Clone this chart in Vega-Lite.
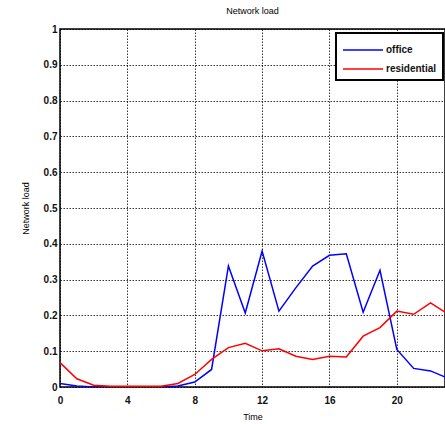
{
  "$schema": "https://vega.github.io/schema/vega-lite/v6.json",
  "width": 385,
  "height": 358,
  "autosize": {"type": "none"},
  "padding": {"left": 60, "top": 29, "right": 0, "bottom": 37},
  "background": "white",
  "title": {"text": "Network load", "fontSize": 9, "font": "Liberation Sans", "fontWeight": "normal", "color": "#000", "offset": 8, "anchor": "middle"},
  "config": {
    "view": {"stroke": "#000", "strokeWidth": 1.5},
    "axis": {"labelFont": "Liberation Sans", "labelFontWeight": "bold", "labelFontSize": 10, "labelColor": "#111", "titleFont": "Liberation Sans", "titleFontWeight": "normal", "titleFontSize": 9, "titleColor": "#000", "grid": true, "gridColor": "#000", "gridDash": [1.5, 1.5], "gridOpacity": 0.8, "gridWidth": 1, "ticks": false, "domain": false},
    "legend": {"strokeColor": "#000", "strokeWidth": 2}
  },
  "data": {"values": [
    {"t": 0, "s": "office", "v": 0.010}, {"t": 1, "s": "office", "v": 0.003}, {"t": 2, "s": "office", "v": 0.0}, {"t": 3, "s": "office", "v": 0.0}, {"t": 4, "s": "office", "v": 0.0}, {"t": 5, "s": "office", "v": 0.0}, {"t": 6, "s": "office", "v": 0.0}, {"t": 7, "s": "office", "v": 0.003}, {"t": 8, "s": "office", "v": 0.014}, {"t": 9, "s": "office", "v": 0.049}, {"t": 10, "s": "office", "v": 0.338}, {"t": 11, "s": "office", "v": 0.207}, {"t": 12, "s": "office", "v": 0.380}, {"t": 13, "s": "office", "v": 0.212}, {"t": 14, "s": "office", "v": 0.277}, {"t": 15, "s": "office", "v": 0.338}, {"t": 16, "s": "office", "v": 0.368}, {"t": 17, "s": "office", "v": 0.372}, {"t": 18, "s": "office", "v": 0.209}, {"t": 19, "s": "office", "v": 0.326}, {"t": 20, "s": "office", "v": 0.105}, {"t": 21, "s": "office", "v": 0.052}, {"t": 22, "s": "office", "v": 0.045}, {"t": 23, "s": "office", "v": 0.025},
    {"t": 0, "s": "residential", "v": 0.068}, {"t": 1, "s": "residential", "v": 0.023}, {"t": 2, "s": "residential", "v": 0.005}, {"t": 3, "s": "residential", "v": 0.002}, {"t": 4, "s": "residential", "v": 0.002}, {"t": 5, "s": "residential", "v": 0.002}, {"t": 6, "s": "residential", "v": 0.002}, {"t": 7, "s": "residential", "v": 0.010}, {"t": 8, "s": "residential", "v": 0.035}, {"t": 9, "s": "residential", "v": 0.077}, {"t": 10, "s": "residential", "v": 0.110}, {"t": 11, "s": "residential", "v": 0.122}, {"t": 12, "s": "residential", "v": 0.101}, {"t": 13, "s": "residential", "v": 0.107}, {"t": 14, "s": "residential", "v": 0.086}, {"t": 15, "s": "residential", "v": 0.077}, {"t": 16, "s": "residential", "v": 0.086}, {"t": 17, "s": "residential", "v": 0.084}, {"t": 18, "s": "residential", "v": 0.142}, {"t": 19, "s": "residential", "v": 0.166}, {"t": 20, "s": "residential", "v": 0.212}, {"t": 21, "s": "residential", "v": 0.203}, {"t": 22, "s": "residential", "v": 0.235}, {"t": 23, "s": "residential", "v": 0.205}
  ]},
  "mark": {"type": "line", "strokeWidth": 1.5, "clip": true},
  "encoding": {
    "x": {"field": "t", "type": "quantitative", "title": "Time", "scale": {"domain": [0, 22.86], "nice": false, "zero": false}, "axis": {"values": [0, 4, 8, 12, 16, 20], "labelPadding": 8, "titlePadding": 7, "labelFlush": false}},
    "y": {"field": "v", "type": "quantitative", "title": "Network load", "scale": {"domain": [0, 1], "nice": false}, "axis": {"values": [0, 0.1, 0.2, 0.3, 0.4, 0.5, 0.6, 0.7, 0.8, 0.9, 1], "format": "~g", "labelPadding": 3, "titlePadding": 13, "labelFlush": false}},
    "color": {"field": "s", "type": "nominal", "scale": {"domain": ["office", "residential"], "range": ["#0000ff", "#ff0000"]}, "legend": {"title": null, "orient": "none", "legendX": 276, "legendY": 4, "symbolType": "M-1,0H3", "symbolSize": 400, "symbolStrokeWidth": 1.5, "symbolFillColor": "transparent", "labelFont": "Liberation Sans", "labelFontSize": 10, "labelFontWeight": "bold", "labelColor": "#111", "fillColor": "white", "padding": 6, "rowPadding": 3, "labelOffset": 22, "cornerRadius": 0}}
  }
}
